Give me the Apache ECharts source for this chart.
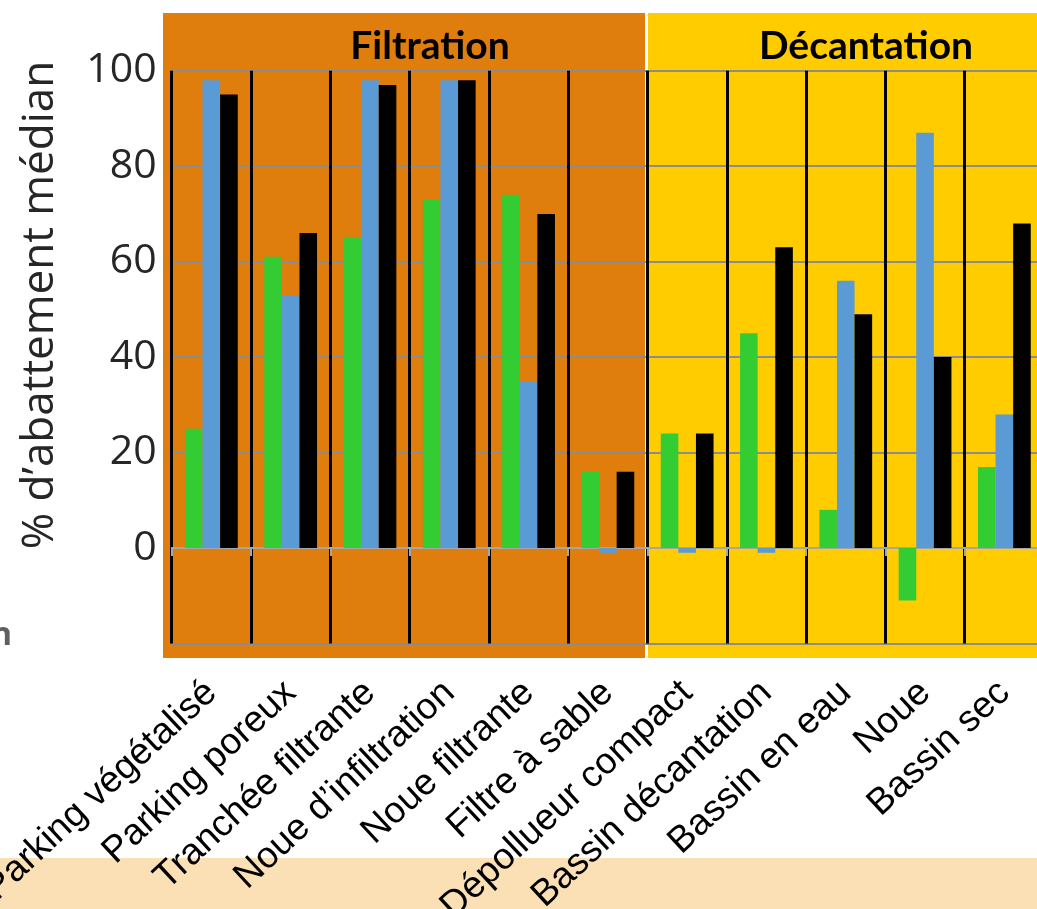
<!DOCTYPE html>
<html>
<head>
<meta charset="utf-8">
<script src="https://cdn.jsdelivr.net/npm/echarts@6/dist/echarts.min.js"></script>
<style>
html,body{margin:0;padding:0;background:#fff;}
#c{width:1037px;height:909px;}
</style>
</head>
<body>
<div id="c"></div>
<script>
const categories = ['Parking végétalisé','Parking poreux','Tranchée filtrante','Noue d\u2019infiltration','Noue filtrante','Filtre à sable','Dépollueur compact','Bassin décantation','Bassin en eau','Noue','Bassin sec'];
const seriesGreen = [25, 61, 65, 73, 74, 16, 24, 45, 8, -11, 17];
const seriesBlue  = [98, 53, 98, 98, 35, -1, -1, -1, 56, 87, 28];
const seriesBlack = [95, 66, 97, 98, 70, 16, 24, 63, 49, 40, 68];
const yTicks = [-20, 0, 20, 40, 60, 80, 100];
const groupTitles = ['Filtration', 'Décantation'];
const yName = '% d\u2019abattement médian';

const chart = echarts.init(document.getElementById('c'), null, {renderer:'canvas'});
const barBase = {type:'bar', barWidth:17.6, barGap:'0%', z:3};
chart.setOption({
  animation:false,
  backgroundColor:'#ffffff',
  graphic:[
    {type:'rect', z:-10, shape:{x:163, y:13, width:482, height:645}, style:{fill:'#DF7D0D'}, silent:true},
    {type:'rect', z:-10, shape:{x:648, y:13, width:400, height:645}, style:{fill:'#FFCC00'}, silent:true},
    {type:'rect', z:-10, shape:{x:0, y:858, width:1037, height:51}, style:{fill:'#FBDFB5'}, silent:true},
    {type:'text', z:10, x:430, y:46, style:{text:groupTitles[0], font:'bold 39px Lato', fill:'#000', align:'center', verticalAlign:'middle'}},
    {type:'text', z:10, x:866, y:46, style:{text:groupTitles[1], font:'bold 39px Lato', fill:'#000', align:'center', verticalAlign:'middle'}},
    {type:'text', z:10, x:40, y:305, rotation:Math.PI/2, style:{text:yName, font:'44px "Open Sans"', fill:'#262626', align:'center', verticalAlign:'middle'}},
    {type:'text', z:10, x:12, y:636, style:{text:'n', font:'bold 32px "Open Sans"', fill:'#5f5f5f', align:'right', verticalAlign:'middle'}}
  ],
  grid:{left:171.7, top:70.7, right:-7, bottom:265.5, containLabel:false, outerBoundsMode:'none'},
  xAxis:{
    type:'category', data:categories,
    axisLine:{show:true, onZero:true, lineStyle:{color:'#a6a6a6', width:2}},
    axisTick:{show:true, interval:0, length:8, lineStyle:{color:'#a6a6a6', width:2}},
    splitLine:{show:true, interval:0, lineStyle:{color:'#000', width:3}},
    axisLabel:{interval:0, rotate:43, margin:44, color:'#000', fontFamily:'Liberation Sans', fontSize:37, hideOverlap:false}
  },
  yAxis:{
    type:'value', min:yTicks[0], max:yTicks[yTicks.length-1], interval:20,
    axisLine:{show:false}, axisTick:{show:false},
    splitLine:{show:true, lineStyle:{color:'#8c8c8c', width:2}},
    axisLabel:{margin:15, color:'#262626', fontFamily:'Open Sans', fontSize:41,
      formatter:v => v < 0 ? '' : String(v)}
  },
  series:[
    Object.assign({name:'vert', data:seriesGreen, itemStyle:{color:'#33CC33'}}, barBase),
    Object.assign({name:'bleu', data:seriesBlue, itemStyle:{color:'#5B9BD5'}}, barBase),
    Object.assign({name:'noir', data:seriesBlack, itemStyle:{color:'#000000'}}, barBase)
  ]
});
</script>
</body>
</html>
